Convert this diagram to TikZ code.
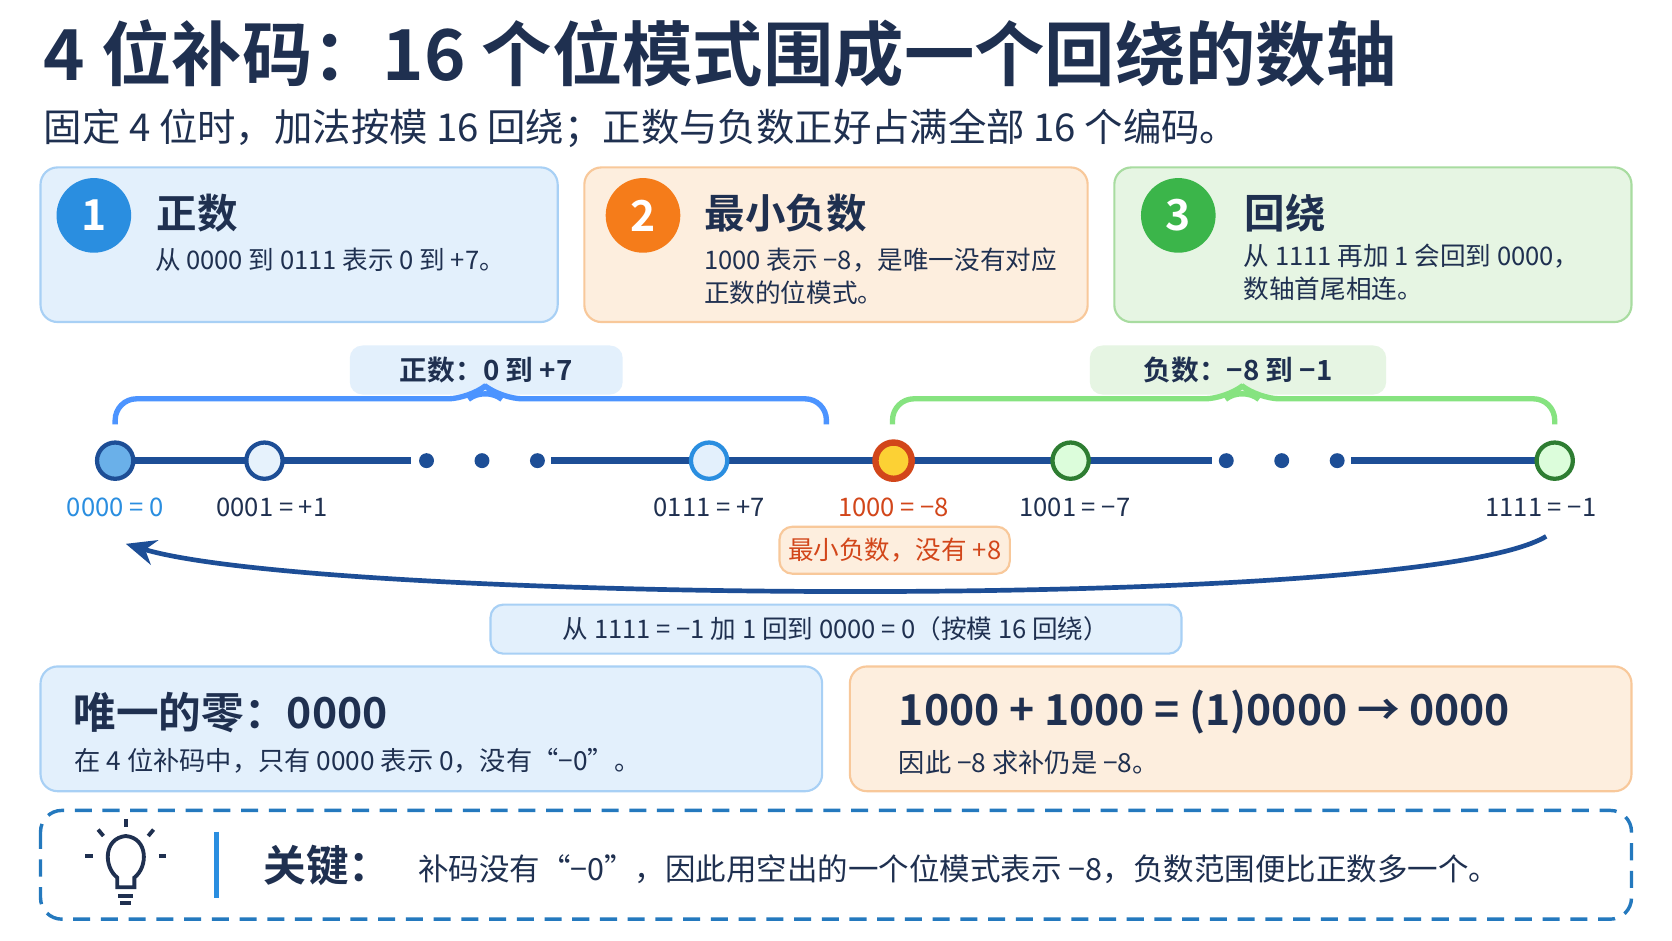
\documentclass[tikz,border=0pt]{standalone}
\usepackage{fontspec}
\setmainfont{Noto Sans CJK SC}[BoldFont={Noto Sans CJK SC Bold}]
\usetikzlibrary{decorations.pathreplacing,arrows.meta}
\definecolor{navy}{HTML}{1F3050}
\definecolor{lineblue}{HTML}{1D4E96}
\definecolor{bfill}{HTML}{E3F0FC}\definecolor{bdraw}{HTML}{A8D0F5}
\definecolor{ofill}{HTML}{FDEEDE}\definecolor{odraw}{HTML}{F8C89A}
\definecolor{gfill}{HTML}{E6F5E3}\definecolor{gdraw}{HTML}{A8DCA0}
\definecolor{cblue}{HTML}{2A8EE0}\definecolor{corange}{HTML}{F57C1A}\definecolor{cgreen}{HTML}{3BB54A}
\definecolor{redo}{HTML}{D2461A}\definecolor{dgreen}{HTML}{2E7D32}
\begin{document}
\begin{tikzpicture}[x=0.5pt,y=-0.5pt,
 card/.style={rounded corners=8pt,line width=1pt},
 bcard/.style={card,fill=bfill,draw=bdraw},
 ocard/.style={card,fill=ofill,draw=odraw},
 gcard/.style={card,fill=gfill,draw=gdraw},
 num/.style={circle,minimum size=35pt,inner sep=0,text=white,font=\bfseries\fontsize{20}{20}\selectfont},
 ctitle/.style={anchor=west,font=\bfseries\fontsize{19}{20}\selectfont,text=navy},
 ctext/.style={anchor=north west,align=left,font=\fontsize{12}{15.5}\selectfont,text=navy,inner sep=0},
 lab/.style={font=\fontsize{12}{12}\selectfont,text=navy},
 pt/.style={circle,minimum size=17pt,inner sep=0,line width=2pt},
 dot/.style={circle,fill=lineblue,minimum size=7pt,inner sep=0},
 seg/.style={lineblue,line width=3.5pt}]
\useasboundingbox (0,0) rectangle (1568,882);
\fill[white] (0,0) rectangle (1568,882);
\node[anchor=west,text=navy,font=\bfseries\fontsize{33}{34}\selectfont] (title) at (34,50) {4 位补码：16 个位模式围成一个回绕的数轴};
\node[anchor=west,text=navy,font=\fontsize{18}{20}\selectfont] (sub) at (34,120) {固定 4 位时，加法按模 16 回绕；正数与负数正好占满全部 16 个编码。};
% cards
\draw[bcard] (38,157) rectangle (523,302);
\node[num,fill=cblue] (n1) at (88,202) {1};
\node[ctitle] (t1) at (140,200) {正数};
\node[ctext] (x1) at (145,232) {从 0000 到 0111 表示 0 到 +7。};
\draw[ocard] (548,157) rectangle (1020,302);
\node[num,fill=corange] (n2) at (603,202) {2};
\node[ctitle] (t2) at (654,200) {最小负数};
\node[ctext] (x2) at (660,232) {1000 表示 −8，是唯一没有对应\\正数的位模式。};
\draw[gcard] (1045,157) rectangle (1530,302);
\node[num,fill=cgreen] (n3) at (1105,202) {3};
\node[ctitle] (t3) at (1160,200) {回绕};
\node[ctext] (x3) at (1166,228) {从 1111 再加 1 会回到 0000，\\数轴首尾相连。};
% range labels and braces
\node[fill=bfill,rounded corners=6pt,minimum width=128pt,minimum height=23pt,font=\bfseries\fontsize{13}{13}\selectfont,text=navy] (rp) at (456,347) {正数：0 到 +7};
\draw[blue!60!cyan!70!white,line width=2.5pt,rounded corners=10pt] (108,398) -- (108,374) -- (440,374) -- (455,362) -- (470,374) -- (775,374) -- (775,398);
\node[fill=gfill,rounded corners=6pt,minimum width=139pt,minimum height=23pt,font=\bfseries\fontsize{13}{13}\selectfont,text=navy] (rn) at (1161,347) {负数：−8 到 −1};
\draw[gdraw!80!green,line width=2.5pt,rounded corners=10pt] (837,398) -- (837,374) -- (1150,374) -- (1165,362) -- (1180,374) -- (1458,374) -- (1458,398);
% number line
\coordinate (c0) at (108,432);\coordinate (c1) at (248,432);\coordinate (c7) at (665,432);
\coordinate (c8) at (838,432);\coordinate (c9) at (1004,432);\coordinate (c15) at (1458,432);
\coordinate (e1) at (385,432);\coordinate (s2) at (517,432);
\coordinate (e2) at (1137,432);\coordinate (s3) at (1267,432);
\draw[seg] (c0) -- (e1); \draw[seg] (s2) -- (e2); \draw[seg] (s3) -- (c15);
\node[dot] (d1) at (400,432) {};\node[dot] (d2) at (452,432) {};\node[dot] (d3) at (504,432) {};
\node[dot] (d4) at (1150,432) {};\node[dot] (d5) at (1202,432) {};\node[dot] (d6) at (1254,432) {};
\node[pt,fill=cblue!70,draw=lineblue] (p0) at (c0) {};
\node[pt,fill=bfill!70!cblue!30,draw=lineblue] (p1) at (c1) {};
\node[pt,fill=bfill,draw=cblue] (p7) at (c7) {};
\node[pt,fill=yellow!60!orange!80,draw=redo,line width=3pt] (p8) at (c8) {};
\node[pt,fill=gfill!60!green!30,draw=dgreen] (p9) at (c9) {};
\node[pt,fill=gfill!60!green!30,draw=dgreen] (p15) at (c15) {};
\node[lab,text=cblue] (l0) at (108,476) {0000 = 0};
\node[lab] (l1) at (255,476) {0001 = +1};
\node[lab] (l7) at (665,476) {0111 = +7};
\node[lab,text=redo] (l8) at (838,476) {1000 = −8};
\node[lab] (l9) at (1008,476) {1001 = −7};
\node[lab] (l15) at (1445,476) {1111 = −1};
\node[fill=ofill,draw=odraw,rounded corners=6pt,line width=1pt,minimum width=108pt,minimum height=22pt,text=redo,font=\fontsize{12}{12}\selectfont] (nb) at (839,516) {最小负数，没有 +8};
% wrap arrow
\coordinate (a0) at (1450,503);
\coordinate (a1) at (118,510);
\draw[lineblue,line width=2.2pt,-{Stealth[length=14pt,width=12pt]}] (a0) .. controls (1330,575) and (300,565) .. (a1);
\node[fill=bfill,draw=bdraw,rounded corners=6pt,line width=1pt,minimum width=324pt,minimum height=23pt,text=navy,font=\fontsize{12}{12}\selectfont] (wr) at (784,590) {从 1111 = −1 加 1 回到 0000 = 0（按模 16 回绕）};
% bottom cards
\draw[bcard] (38,625) rectangle (771,742);
\node[anchor=west,text=navy,font=\bfseries\fontsize{20}{20}\selectfont] (z) at (62,668) {唯一的零：0000};
\node[anchor=west,text=navy,font=\fontsize{12.3}{12}\selectfont] (zt) at (63,713) {在 4 位补码中，只有 0000 表示 0，没有“−0”。};
\draw[ocard] (797,625) rectangle (1530,742);
\node[anchor=west,text=navy,font=\bfseries\fontsize{20}{20}\selectfont] (eq) at (836,668) {1000 + 1000 = (1)0000 → 0000};
\node[anchor=west,text=navy,font=\fontsize{12.3}{12}\selectfont] (eqt) at (836,715) {因此 −8 求补仍是 −8。};
% key box
\draw[cblue!85!black,line width=1.6pt,dash pattern=on 8pt off 5pt,rounded corners=10pt] (38,760) rectangle (1530,862);
\begin{scope}[navy,line width=1.8pt]
\draw (110,832) -- (110,823) .. controls (97,813) and (97,786) .. (118,784) .. controls (139,786) and (139,813) .. (126,823) -- (126,832) -- cycle;
\draw (111,840) -- (125,840); \draw (113,847) -- (123,847);
\draw (118,768) -- (118,776); \draw (92,778) -- (97,784); \draw (144,778) -- (139,784);
\draw (80,803) -- (87,803); \draw (149,803) -- (156,803);
\end{scope}
\draw[cblue,line width=2.5pt] (203,780) -- (203,842);
\node[anchor=west,text=navy,font=\bfseries\fontsize{20}{20}\selectfont] (key) at (240,812) {关键：};
\node[anchor=west,text=navy,font=\fontsize{14.3}{14}\selectfont] (kt) at (385,815) {补码没有“−0”，因此用空出的一个位模式表示 −8，负数范围便比正数多一个。};
\end{tikzpicture}
\end{document}
